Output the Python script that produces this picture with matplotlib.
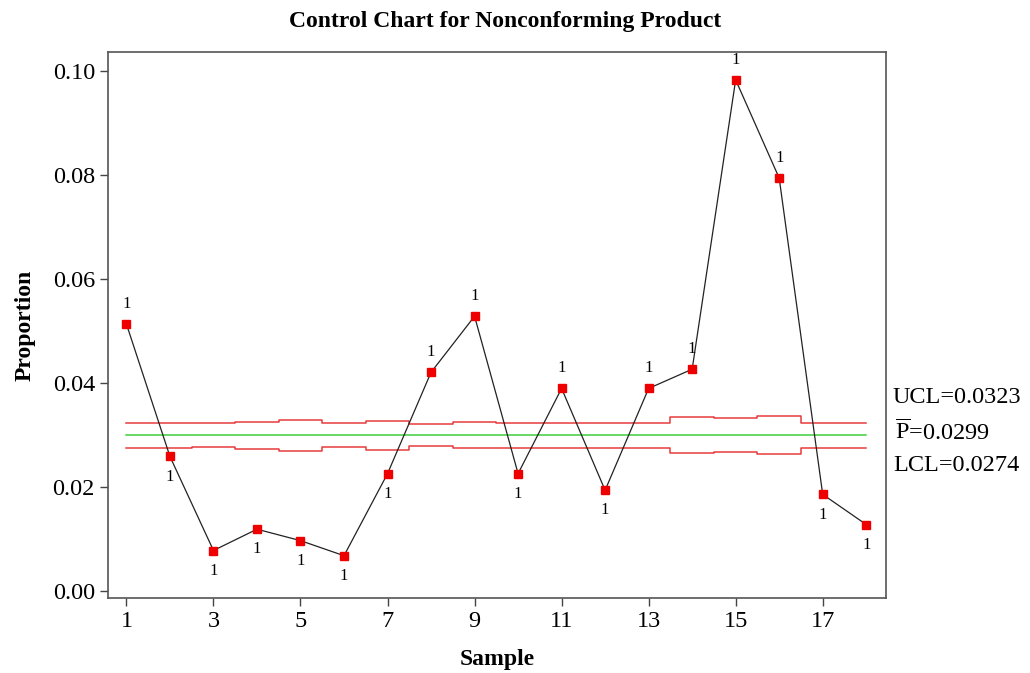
import numpy as np
import matplotlib.pyplot as plt

plt.rcParams['font.family'] = ['Liberation Serif', 'DejaVu Serif']
plt.rcParams['mathtext.fontset'] = 'custom'
plt.rcParams['mathtext.rm'] = 'Liberation Serif'

samples = list(range(1, 19))
proportion = [0.0513, 0.0258, 0.0077, 0.0118, 0.0096, 0.0067, 0.0225, 0.0420, 0.0528,
              0.0225, 0.0389, 0.0193, 0.0389, 0.0426, 0.0983, 0.0794, 0.0185, 0.0127]
ucl = [0.0323, 0.0323, 0.0322, 0.0325, 0.0329, 0.0322, 0.0327, 0.0320, 0.0324,
       0.0323, 0.0323, 0.0323, 0.0323, 0.0334, 0.0332, 0.0335, 0.0323, 0.0323]
lcl = [0.0275, 0.0275, 0.0276, 0.0273, 0.0269, 0.0276, 0.0271, 0.0278, 0.0274,
       0.0275, 0.0275, 0.0275, 0.0275, 0.0264, 0.0266, 0.0263, 0.0275, 0.0275]
p_bar = 0.0299
# flagged points: label above (+1) or below (-1)
flag_side = [1, -1, -1, -1, -1, -1, -1, 1, 1, -1, 1, -1, 1, 1, 1, 1, -1, -1]
xticks = [1, 3, 5, 7, 9, 11, 13, 15, 17]
yticks = [0.00, 0.02, 0.04, 0.06, 0.08, 0.10]

fig = plt.figure(figsize=(10.30, 6.73), dpi=100)
ax = fig.add_axes([0.105, 0.111, 0.755, 0.812])

ax.step(samples, ucl, where='mid', color='#e83a3a', lw=1.1)
ax.step(samples, lcl, where='mid', color='#e83a3a', lw=1.1)
ax.plot([samples[0], samples[-1]], [p_bar, p_bar], color='#3ccf3c', lw=1.1)
ax.plot(samples, proportion, color='#222222', lw=0.9, zorder=3)
ax.plot(samples, proportion, 's', color='#ee0000', ms=6.3, zorder=4, mec='#ee0000')

for x, y, s in zip(samples, proportion, flag_side):
    ax.annotate('1', (x, y), xytext=(0, 14.5 * s), textcoords='offset points',
                ha='center', va='center', fontsize=12)

ax.set_xlim(0.58, 18.45)
ax.set_ylim(-0.0015, 0.1037)
ax.set_xticks(xticks)
ax.set_yticks(yticks)
ax.set_yticklabels(['%.2f' % v for v in yticks])
ax.tick_params(labelsize=17.5, length=6, width=1, color='#444444', direction='out')
for sp in ax.spines.values():
    sp.set_color('#555555')
    sp.set_linewidth(1.2)

ax.set_xlabel('Sample', fontsize=17, fontweight='bold', labelpad=12)
ax.set_ylabel('Proportion', fontsize=17, fontweight='bold', labelpad=12)
fig.text(0.49, 0.968, 'Control Chart for Nonconforming Product', ha='center', va='center',
         fontsize=17, fontweight='bold')

fig.text(0.867, 0.41, 'UCL=0.0323', fontsize=17.5, va='center')
fig.text(0.869, 0.358, r'$\mathrm{\overline{P}}$=0.0299', fontsize=17.5, va='center')
fig.text(0.867, 0.309, 'LCL=0.0274', fontsize=17.5, va='center')

fig.savefig('out.png', dpi=100)
